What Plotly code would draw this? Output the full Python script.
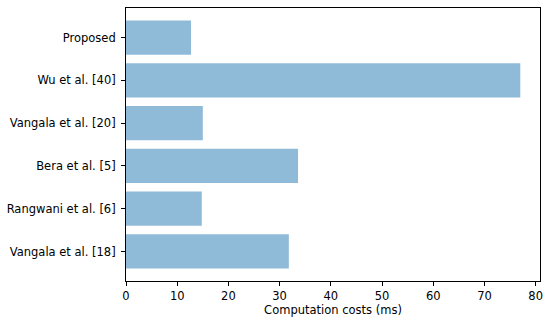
import plotly.graph_objects as go

methods = ["Proposed", "Wu et al. [40]", "Vangala et al. [20]", "Bera et al. [5]",
           "Rangwani et al. [6]", "Vangala et al. [18]"]
costs = [12.7, 77.0, 15.0, 33.6, 14.8, 31.8]
x_ticks = [0, 10, 20, 30, 40, 50, 60, 70, 80]

fig = go.Figure(go.Bar(
    x=costs, y=methods, orientation="h", width=0.8,
    marker=dict(color="#8fbbd9", line=dict(width=0)),
))

font = dict(family="DejaVu Sans", size=11.5, color="#000000")
fig.update_layout(
    width=550, height=322,
    margin=dict(l=125, r=9, t=7, b=38),
    plot_bgcolor="white", paper_bgcolor="white",
    font=font, showlegend=False, bargap=0.2,
)
fig.update_xaxes(
    range=[0, 80.85], tickvals=x_ticks, ticks="outside", ticklen=4, tickcolor="black",
    showline=True, linecolor="black", linewidth=1, mirror=True, showgrid=False,
    zeroline=False, title=dict(text="Computation costs (ms)", standoff=4, font=font),
    tickfont=font,
)
fig.update_yaxes(
    categoryorder="array", categoryarray=methods[::-1],
    range=[-0.69, 5.69], ticks="outside", ticklen=4, tickcolor="black",
    showline=True, linecolor="black", linewidth=1, mirror=True, showgrid=False,
    tickfont=font, ticklabelstandoff=3,
)
fig.write_html("out.html", config={"displayModeBar": False})

with open("out.html", encoding="utf-8") as f:
    html = f.read()
html = html.replace("<head>", "<head><style>html,body{margin:0;padding:0;overflow:hidden;}</style>", 1)
with open("out.html", "w", encoding="utf-8") as f:
    f.write(html)
